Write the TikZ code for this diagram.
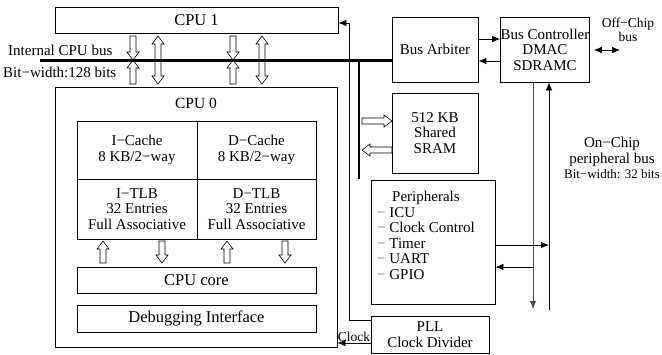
\documentclass[tikz,border=0pt]{standalone}
\usepackage{fontspec}
\setmainfont{Liberation Serif}
\usetikzlibrary{arrows.meta,positioning}

\newcommand\fatv[4]{\draw[fat] (#1-3,#2) -- (#1-3,#3) -- (#1-6,#3) -- (#1,#4) -- (#1+6,#3) -- (#1+3,#3) -- (#1+3,#2) -- cycle;}
\newcommand\fath[4]{\draw[fat] (#2,#1-3) -- (#3,#1-3) -- (#3,#1-6) -- (#4,#1) -- (#3,#1+6) -- (#3,#1+3) -- (#2,#1+3) -- cycle;}
\newcommand\fatvv[3]{\draw[fat] (#1,#2) -- (#1+6,#2+8) -- (#1+3,#2+8) -- (#1+3,#3-8) -- (#1+6,#3-8) -- (#1,#3) -- (#1-6,#3-8) -- (#1-3,#3-8) -- (#1-3,#2+8) -- (#1-6,#2+8) -- cycle;}
\newcommand\pitem{\textcolor{gray}{−}~}

\begin{document}
\begin{tikzpicture}[x=1pt,y=-1pt,>={Latex[length=8pt,width=6.5pt]},
    font=\fontsize{15}{15.5}\selectfont,
    box/.style={draw,line width=0.8pt,inner sep=0pt,align=center},
    big/.style={font=\fontsize{16.5}{17}\selectfont},
    small/.style={font=\fontsize{13.5}{14.5}\selectfont},
    fat/.style={draw,fill=white,line width=0.6pt},
    ln/.style={line width=0.8pt}]
    \useasboundingbox (0,0) rectangle (662,354);
    \node[box,big,minimum width=283pt,minimum height=26pt] (cpu1) at (196.5,20) {CPU 1};
    \node[box,minimum width=282pt,minimum height=260pt] (cpu0) at (196,217) {};
    \node[font=\fontsize{15.5}{16}\selectfont] (cpu0t) at (196,103) {CPU 0};
    \node[box,minimum width=120pt,minimum height=58pt] (icache) at (137,150) {I−Cache\\8 KB/2−way};
    \node[box,minimum width=119pt,minimum height=58pt] (dcache) at (256.5,150) {D−Cache\\8 KB/2−way};
    \node[box,minimum width=120pt,minimum height=60pt] (itlb) at (137,209) {I−TLB\\32 Entries\\Full Associative};
    \node[box,minimum width=119pt,minimum height=60pt] (dtlb) at (256.5,209) {D−TLB\\32 Entries\\Full Associative};
    \node[box,big,minimum width=239pt,minimum height=26pt] (core) at (196.5,280) {CPU core};
    \node[box,big,minimum width=239pt,minimum height=27pt] (debug) at (196.5,318.5) {Debugging Interface};
    \node[box,minimum width=86pt,minimum height=65pt] (arbiter) at (435,49.5) {Bus Arbiter};
    \node[box,minimum width=88pt,minimum height=65pt] (busctl) at (545,49.5) {Bus Controller\\DMAC\\SDRAMC};
    \node[box,minimum width=86pt,minimum height=80pt] (sram) at (435,133) {512 KB\\Shared\\SRAM};
    \node[box,minimum width=124pt,minimum height=124pt] (periph) at (433,242) {};
    \node[anchor=north west,align=left,inner sep=0pt] (plist) at (377,191)
      {\hspace*{15pt}Peripherals\\\pitem ICU\\\pitem Clock Control\\\pitem Timer\\\pitem UART\\\pitem GPIO};
    \node[box,minimum width=118pt,minimum height=37pt] (pll) at (430,334.5) {PLL\\Clock Divider};
    \node[anchor=base west,inner sep=0pt] (buslbl) at (8,55) {Internal CPU bus};
    \node[anchor=base west,inner sep=0pt] (bwlbl) at (3,77) {Bit−width:128 bits};
    \node[small,align=center] (offlbl) at (628,30) {Off−Chip\\bus};
    \node[align=center] (onlbl) at (612,158) {On−Chip\\peripheral bus\\{\fontsize{13}{13.5}\selectfont Bit−width: 32 bits}};
    \foreach \x in {133,233} { \fatv{\x}{36}{52}{60} \fatv{\x}{84}{68}{60} }
    \foreach \x in {158,262} { \fatvv{\x}{36}{84} }
    \foreach \x in {103,227} { \fatv{\x}{263}{249}{241} }
    \foreach \x in {162,285} { \fatv{\x}{241}{255}{263} }
    \fath{121}{362}{384}{392}
    \fath{150}{392}{370}{362}
    \coordinate (busl) at (40,60);
    \draw[line width=3pt] (busl) -- (busl -| arbiter.west);
    \draw[line width=1.6pt] (359,60) -- (359,179);
    \draw[->,ln] ([yshift=10.5pt]arbiter.east) -- ([yshift=10.5pt]busctl.west);
    \draw[->,ln] ([yshift=-11.5pt]busctl.west) -- ([yshift=-11.5pt]arbiter.east);
    \coordinate (offchip) at (620,50);
    \draw[<->,ln] ([xshift=4pt]busctl.east |- offchip) -- (offchip);
    \coordinate (pbd) at (533,309);
    \coordinate (pbu) at (549,310);
    \draw[->,ln,gray!60!black] (pbd |- busctl.south) -- (pbd);
    \draw[->,ln] (pbu) -- (pbu |- busctl.south);
    \draw[->,ln] (periph.east |- 0,245) -- (pbu |- 0,245);
    \draw[->,ln] (pbd |- 0,267) -- (periph.east |- 0,267);
    \draw[->,ln] (pll.west |- 0,343) -- node[small,above,inner sep=1pt] (clklbl) {Clock} (cpu0.east |- 0,343);
    \draw[->,ln] (pll.west |- 0,320) -| (349,23) -- (cpu1.east |- 0,23);
\end{tikzpicture}
\end{document}
